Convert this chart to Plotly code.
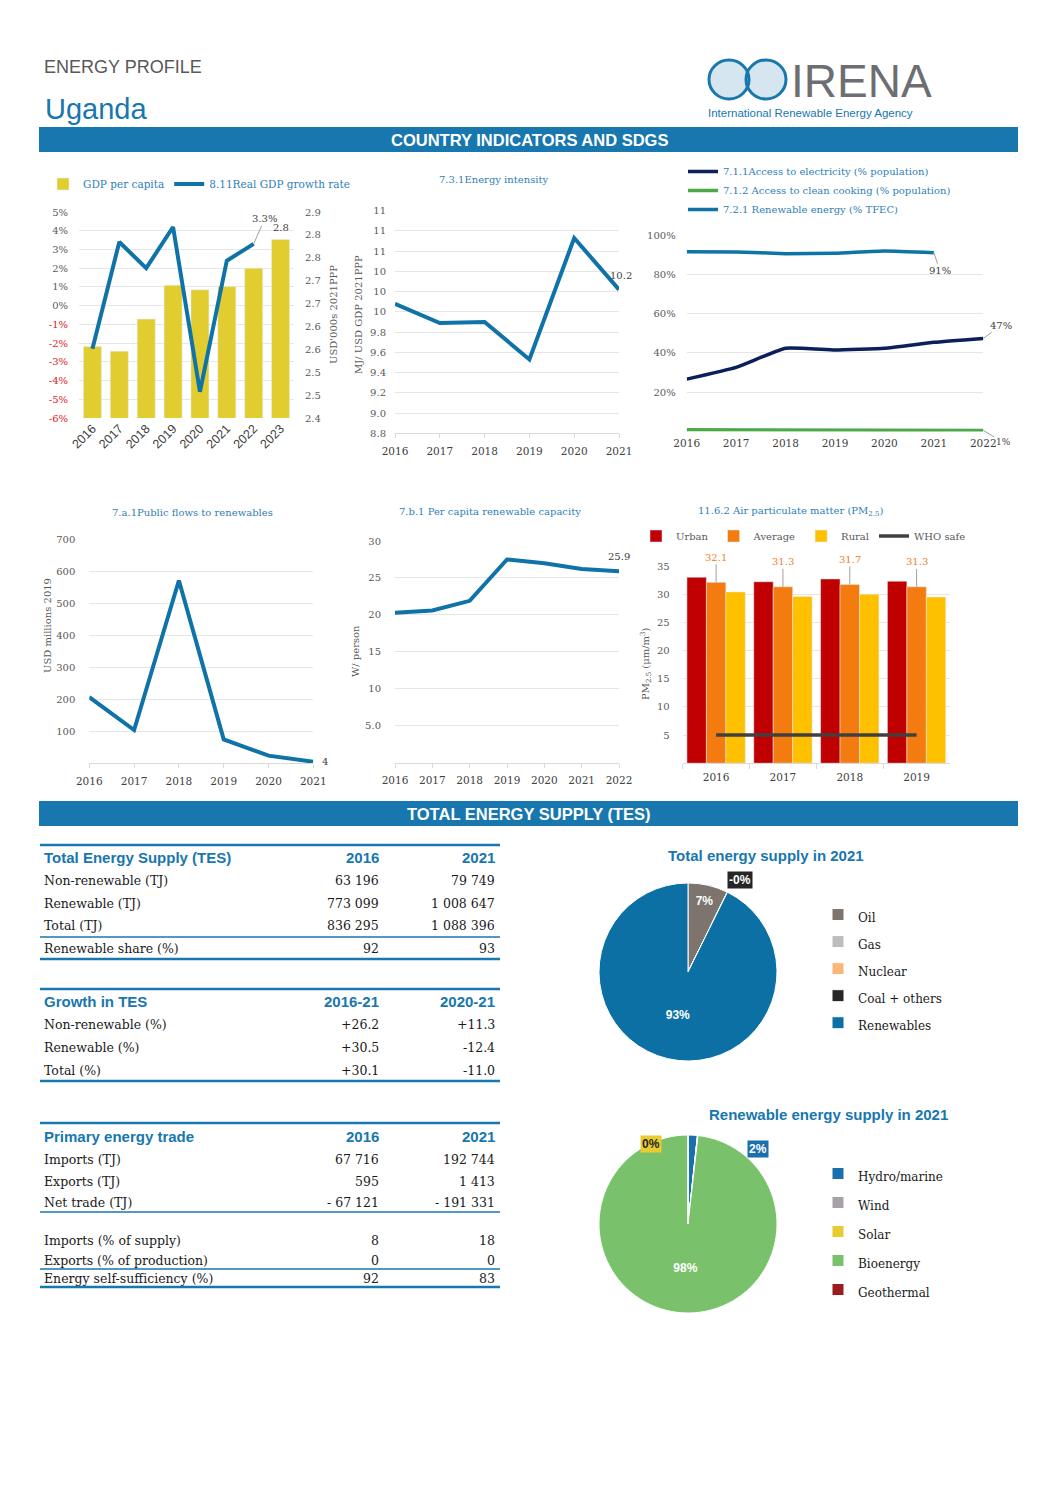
import plotly.graph_objects as go

W, H = 1058, 1497
OFF = 8  # page body margin in the browser


def fx(x):
    return (x - OFF) / W


def fy(y):
    return 1 - (y - OFF) / H


def xd(a, b):
    return [fx(a), fx(b)]


def yd(top, bottom):
    return [fy(bottom), fy(top)]


# ---------------------------------------------------------------- DATA
gdp_years = ["2016", "2017", "2018", "2019", "2020", "2021", "2022", "2023"]
gdp_per_capita = [2.556, 2.546, 2.616, 2.690, 2.680, 2.687, 2.727, 2.790]
growth_years = ["2016", "2017", "2018", "2019", "2020", "2021", "2022"]
gdp_growth = [-2.3, 3.4, 2.0, 4.2, -4.6, 2.4, 3.3]
growth_ticks = [-6, -5, -4, -3, -2, -1, 0, 1, 2, 3, 4, 5]
growth_ticktext = ["-6%", "-5%", "-4%", "-3%", "-2%", "-1%", "0%", "1%", "2%", "3%", "4%", "5%"]
gdp_ticks = [2.40, 2.45, 2.50, 2.55, 2.60, 2.65, 2.70, 2.75, 2.80, 2.85]
gdp_ticktext = ["2.4", "2.5", "2.5", "2.6", "2.6", "2.7", "2.7", "2.8", "2.8", "2.9"]

ei_years = [2016, 2017, 2018, 2019, 2020, 2021]
energy_intensity = [10.08, 9.89, 9.90, 9.53, 10.73, 10.22]
ei_ticks = [8.8, 9.0, 9.2, 9.4, 9.6, 9.8, 10.0, 10.2, 10.4, 10.6, 10.8, 11.0]
ei_ticktext = ["8.8", "9.0", "9.2", "9.4", "9.6", "9.8", "10", "10", "10", "11", "11", "11"]

access_years = [2016, 2017, 2018, 2019, 2020, 2021, 2022]
access_electricity = [26.7, 32.7, 42.4, 41.5, 42.4, 45.4, 47.4]
clean_cooking = [0.9, 0.9, 0.9, 0.8, 0.7, 0.7, 0.6]
re_years = [2016, 2017, 2018, 2019, 2020, 2021]
renewable_tfec = [91.5, 91.4, 90.5, 90.7, 91.9, 91.0]
pct_ticks = [20, 40, 60, 80, 100]
pct_ticktext = ["20%", "40%", "60%", "80%", "100%"]

flow_years = [2016, 2017, 2018, 2019, 2020, 2021]
public_flows = [206, 103, 571, 74, 23, 4]
flow_ticks = [100, 200, 300, 400, 500, 600, 700]

cap_years = [2016, 2017, 2018, 2019, 2020, 2021, 2022]
re_capacity = [20.3, 20.6, 21.9, 27.5, 27.0, 26.2, 25.9]
cap_ticks = [5, 10, 15, 20, 25, 30]
cap_ticktext = ["5.0", "10", "15", "20", "25", "30"]

pm_years = ["2016", "2017", "2018", "2019"]
pm_urban = [33.0, 32.2, 32.7, 32.3]
pm_average = [32.1, 31.3, 31.7, 31.3]
pm_rural = [30.4, 29.6, 30.0, 29.5]
pm_who = [5, 5, 5, 5]
pm_ticks = [5, 10, 15, 20, 25, 30, 35]

tes_labels = ["Oil", "Gas", "Nuclear", "Coal + others", "Renewables"]
tes_shares = [7.3, 0, 0, 0, 92.7]
re_labels = ["Hydro/marine", "Wind", "Solar", "Bioenergy", "Geothermal"]
re_shares = [1.7, 0, 0.1, 98.2, 0]

tes_header = ["Total Energy Supply (TES)", "2016", "2021"]
tes_rows = [
    ["Non-renewable (TJ)", "63 196", "79 749"],
    ["Renewable (TJ)", "773 099", "1 008 647"],
    ["Total (TJ)", "836 295", "1 088 396"],
    ["Renewable share (%)", "92", "93"],
]
growth_header = ["Growth in TES", "2016-21", "2020-21"]
growth_rows = [
    ["Non-renewable (%)", "+26.2", "+11.3"],
    ["Renewable (%)", "+30.5", "-12.4"],
    ["Total (%)", "+30.1", "-11.0"],
]
trade_header = ["Primary energy trade", "2016", "2021"]
trade_rows = [
    ["Imports (TJ)", "67 716", "192 744"],
    ["Exports (TJ)", "595", "1 413"],
    ["Net trade (TJ)", "- 67 121", "- 191 331"],
    ["Imports (% of supply)", "8", "18"],
    ["Exports (% of production)", "0", "0"],
    ["Energy self-sufficiency (%)", "92", "83"],
]

# ---------------------------------------------------------------- STYLE
SERIF = "DejaVu Serif"
SANS = "Liberation Sans"
NARROW = "Liberation Sans Narrow, Liberation Sans"
BLUE = "#1777AE"
LINE_BLUE = "#0F73A8"
TITLE_BLUE = "#2F80B7"
NAVY = "#0B1F5B"
GREEN = "#4CA94A"
YELLOW = "#E2CD31"
GRID = "#E6E6E6"
AXIS = "#D9D9D9"
TICK = "#595959"
DARK = "#404040"

tick_font = dict(family=SERIF, size=10, color=TICK)
year_font = dict(family=SERIF, size=10.5, color=DARK)

fig = go.Figure()

# ---------------- chart 1: GDP
fig.add_trace(go.Bar(x=gdp_years, y=gdp_per_capita, xaxis="x", yaxis="y", width=0.67,
                     marker_color=YELLOW, name="GDP per capita", legend="legend"))
fig.add_trace(go.Scatter(x=growth_years, y=gdp_growth, xaxis="x", yaxis="y2", mode="lines",
                         line=dict(color=LINE_BLUE, width=4), name="8.11Real GDP growth rate",
                         legend="legend", cliponaxis=False))

# ---------------- chart 2: energy intensity
fig.add_trace(go.Scatter(x=ei_years, y=energy_intensity, xaxis="x2", yaxis="y3", mode="lines",
                         line=dict(color=LINE_BLUE, width=4), showlegend=False, cliponaxis=False))

# ---------------- chart 3: access
fig.add_trace(go.Scatter(x=access_years, y=access_electricity, xaxis="x3", yaxis="y4", mode="lines",
                         line=dict(color=NAVY, width=3.5, shape="spline", smoothing=0.4),
                         name="7.1.1Access to electricity (% population)", legend="legend2",
                         cliponaxis=False))
fig.add_trace(go.Scatter(x=access_years, y=clean_cooking, xaxis="x3", yaxis="y4", mode="lines",
                         line=dict(color=GREEN, width=3.5),
                         name="7.1.2 Access to clean cooking (% population)", legend="legend2",
                         cliponaxis=False))
fig.add_trace(go.Scatter(x=re_years, y=renewable_tfec, xaxis="x3", yaxis="y4", mode="lines",
                         line=dict(color=LINE_BLUE, width=3.5, shape="spline", smoothing=0.4),
                         name="7.2.1 Renewable energy (% TFEC)", legend="legend2", cliponaxis=False))

# ---------------- chart 4: public flows
fig.add_trace(go.Scatter(x=flow_years, y=public_flows, xaxis="x4", yaxis="y5", mode="lines",
                         line=dict(color=LINE_BLUE, width=4), showlegend=False, cliponaxis=False))

# ---------------- chart 5: per capita capacity
fig.add_trace(go.Scatter(x=cap_years, y=re_capacity, xaxis="x5", yaxis="y6", mode="lines",
                         line=dict(color=LINE_BLUE, width=4), showlegend=False, cliponaxis=False))

# ---------------- chart 6: PM2.5
fig.add_trace(go.Bar(x=pm_years, y=pm_urban, xaxis="x6", yaxis="y7", marker_color="#C00000",
                     name="Urban", legend="legend3"))
fig.add_trace(go.Bar(x=pm_years, y=pm_average, xaxis="x6", yaxis="y7", marker_color="#F47B10",
                     name="Average", legend="legend3"))
fig.add_trace(go.Bar(x=pm_years, y=pm_rural, xaxis="x6", yaxis="y7", marker_color="#FFC000",
                     name="Rural", legend="legend3"))
fig.add_trace(go.Scatter(x=pm_years, y=pm_who, xaxis="x6", yaxis="y7", mode="lines",
                         line=dict(color="#404040", width=3.5), name="WHO safe", legend="legend3"))

# ---------------- pies
span = "<span style='font-size:12px'>{}</span>"
fig.add_trace(go.Pie(
    labels=[span.format(l) for l in tes_labels], values=tes_shares, sort=False,
    direction="clockwise", rotation=0,
    marker=dict(colors=["#7E746E", "#BDBDBD", "#F7B877", "#262626", "#0C70A5"],
                line=dict(color="white", width=1)),
    text=[f"<b>{round(v)}%</b>" if v >= 5 else "" for v in tes_shares], textinfo="text",
    textposition="inside", insidetextorientation="horizontal",
    textfont=dict(family=SANS, size=12, color="white"),
    domain=dict(x=xd(599, 777), y=yd(883, 1061)), legend="legend4", hoverinfo="label+percent"))
fig.add_trace(go.Pie(
    labels=[span.format(l) for l in re_labels], values=re_shares, sort=False,
    direction="clockwise", rotation=0,
    marker=dict(colors=["#1A6FAE", "#A6A1A6", "#E8CC2F", "#79C16B", "#9B1C1C"],
                line=dict(color="white", width=1)),
    text=[f"<b>{round(v)}%</b>" if v >= 5 else "" for v in re_shares], textinfo="text",
    textposition="inside", insidetextorientation="horizontal",
    textfont=dict(family=SANS, size=12, color="white"),
    domain=dict(x=xd(599, 777), y=yd(1135, 1313)), legend="legend5", hoverinfo="label+percent"))

# ---------------------------------------------------------------- AXES
def yaxis_common(**kw):
    d = dict(showgrid=True, gridcolor=GRID, gridwidth=1, zeroline=False, showline=False,
             tickfont=tick_font, ticks="", ticklabelstandoff=10, fixedrange=True, automargin=False)
    d.update(kw)
    return d


def xaxis_line(**kw):
    d = dict(showgrid=False, zeroline=False, showline=True, linecolor=AXIS, linewidth=1,
             ticks="outside", ticklen=4, tickcolor=AXIS, tickfont=year_font,
             ticklabelstandoff=4, fixedrange=True, automargin=False)
    d.update(kw)
    return d


red_ticks = [f"<span style='color:#E0201B'>{t}</span>" if v < 0 else t
             for v, t in zip(growth_ticks, growth_ticktext)]

layout_axes = dict(
    xaxis=dict(domain=xd(79, 294), anchor="y", type="category", range=[-0.5, len(gdp_years) - 0.5],
               showgrid=False, showline=False, zeroline=False, ticks="", tickangle=-45,
               tickfont=dict(family=SANS, size=12.5, color=DARK), fixedrange=True, automargin=False),
    yaxis=yaxis_common(domain=yd(212, 418), anchor="x", side="right", range=[2.4, 2.85],
                       tickvals=gdp_ticks, ticktext=gdp_ticktext, showgrid=False),
    yaxis2=yaxis_common(overlaying="y", anchor="x", side="left", range=[-6, 5],
                        tickvals=growth_ticks, ticktext=red_ticks),
    xaxis2=xaxis_line(domain=xd(395, 619), anchor="y3", range=[2016, 2021], tickvals=ei_years),
    yaxis3=yaxis_common(domain=yd(210.7, 433.3), anchor="x2", range=[8.8, 11.0],
                        tickvals=ei_ticks, ticktext=ei_ticktext, ticklabelstandoff=8),
    xaxis3=xaxis_line(domain=xd(686.7, 983.3), anchor="y4", range=[2016, 2022],
                      tickvals=access_years, showline=False, ticks=""),
    yaxis4=yaxis_common(domain=yd(235, 431.6), anchor="x3", range=[0, 100],
                        tickvals=pct_ticks, ticktext=pct_ticktext),
    xaxis4=xaxis_line(domain=xd(89.3, 313.3), anchor="y5", range=[2016, 2021], tickvals=flow_years),
    yaxis5=yaxis_common(domain=yd(539.3, 763), anchor="x4", range=[0, 700], tickvals=flow_ticks,
                        ticklabelstandoff=13),
    xaxis5=xaxis_line(domain=xd(395, 619), anchor="y6", range=[2016, 2022], tickvals=cap_years),
    yaxis6=yaxis_common(domain=yd(541, 762.6), anchor="x5", range=[0, 30], tickvals=cap_ticks,
                        ticktext=cap_ticktext, ticklabelstandoff=13),
    xaxis6=xaxis_line(domain=xd(682.7, 950), anchor="y7", type="category",
                      range=[-0.5, len(pm_years) - 0.5], tickson="boundaries", ticklen=5),
    yaxis7=yaxis_common(domain=yd(566, 763.2), anchor="x6", range=[0, 35], tickvals=pm_ticks,
                        ticklabelstandoff=12),
)

# ---------------------------------------------------------------- ANNOTATIONS / SHAPES
ann = []
shapes = []


def text(x, y, s, size=10.5, color=DARK, family=SERIF, xanchor="center", yanchor="middle", **kw):
    d = dict(x=fx(x), y=fy(y), xref="paper", yref="paper", text=s, showarrow=False,
             xanchor=xanchor, yanchor=yanchor, font=dict(family=family, size=size, color=color))
    d.update(kw)
    ann.append(d)


def hline(x0, x1, y, width=2, color=BLUE):
    shapes.append(dict(type="line", xref="paper", yref="paper", x0=fx(x0), x1=fx(x1),
                       y0=fy(y), y1=fy(y), line=dict(color=color, width=width)))


# header
text(42, 67, "ENERGY PROFILE", size=18, color="#595959", family=SANS, xanchor="left")
text(43, 109, "Uganda", size=29, color=BLUE, family=SANS, xanchor="left")
text(789, 81, "IRENA", size=46, color="#6D6E71", family=NARROW, xanchor="left")
text(706, 113, "International Renewable Energy Agency", size=11.5, color=BLUE, family=NARROW,
     xanchor="left")
for cx in (729, 766):
    shapes.append(dict(type="circle", xref="paper", yref="paper", x0=fx(cx - 20), x1=fx(cx + 20),
                       y0=fy(99), y1=fy(60), line=dict(color=BLUE, width=3),
                       fillcolor="rgba(23,119,174,0.18)"))

# section bars
for (y0, y1, s) in [(127, 152, "COUNTRY INDICATORS AND SDGS"), (801, 826, "TOTAL ENERGY SUPPLY (TES)")]:
    shapes.append(dict(type="rect", xref="paper", yref="paper", x0=fx(39), x1=fx(1018),
                       y0=fy(y1), y1=fy(y0), fillcolor=BLUE, line=dict(width=0), layer="below"))
    text(529, (y0 + y1) / 2 + 0.5, "<b>" + s + "</b>", size=16.5, color="white", family=NARROW)

# chart titles
text(493, 179, "7.3.1Energy intensity", size=10, color=TITLE_BLUE)
text(192, 512, "7.a.1Public flows to renewables", size=10, color=TITLE_BLUE)
text(490, 511, "7.b.1 Per capita renewable capacity", size=10, color=TITLE_BLUE)
text(790, 511, "11.6.2 Air particulate matter (PM<sub>2.5</sub>)", size=10, color=TITLE_BLUE)

# axis titles
text(333, 315, "USD'000s 2021PPP", size=10, color=TICK, textangle=-90)
text(358, 315, "MJ/ USD GDP 2021PPP", size=10, color=TICK, textangle=-90)
text(47, 626, "USD millions 2019", size=10, color=TICK, textangle=-90)
text(355, 651, "W/ person", size=10, color=TICK, textangle=-90)
text(646, 664, "PM<sub>2.5</sub> (μm/m<sup>3</sup>)", size=10, color=TICK, textangle=-90)

# data labels (category axes referenced by index)
lab_font = dict(family=SERIF, size=10, color=DARK)
ann.append(dict(x=len(growth_years) - 1, y=gdp_growth[-1], xref="x", yref="y2",
                text=f"{gdp_growth[-1]:.1f}%", showarrow=True, arrowhead=0, arrowwidth=1,
                arrowcolor="#A0A0A0", ax=11, ay=-25, font=lab_font))
ann.append(dict(x=len(gdp_years) - 1, y=gdp_per_capita[-1], xref="x", yref="y",
                text=f"{gdp_per_capita[-1]:.1f}", showarrow=False, yshift=12, font=lab_font))
ann.append(dict(x=ei_years[-1], y=energy_intensity[-1], xref="x2", yref="y3",
                text=f"{energy_intensity[-1]:.1f}", showarrow=False, yshift=14, xshift=2, font=lab_font))
ann.append(dict(x=re_years[-1], y=renewable_tfec[-1], xref="x3", yref="y4", text=f"{renewable_tfec[-1]:.0f}%",
                showarrow=True, arrowhead=0, arrowwidth=1, arrowcolor="#A0A0A0", ax=6, ay=18,
                font=lab_font))
ann.append(dict(x=access_years[-1], y=access_electricity[-1], xref="x3", yref="y4",
                text=f"{access_electricity[-1]:.0f}%", showarrow=True, arrowhead=0, arrowwidth=1,
                arrowcolor="#A0A0A0", ax=18, ay=-13, font=lab_font))
ann.append(dict(x=access_years[-1], y=clean_cooking[-1], xref="x3", yref="y4",
                text=f"{clean_cooking[-1]:.0f}%", showarrow=True, arrowhead=0, arrowwidth=1,
                arrowcolor="#A0A0A0", ax=20, ay=12, font=dict(family=SERIF, size=9, color=DARK)))
ann.append(dict(x=flow_years[-1], y=public_flows[-1], xref="x4", yref="y5", text=f"{public_flows[-1]}",
                showarrow=False, xshift=12, font=lab_font))
ann.append(dict(x=cap_years[-1], y=re_capacity[-1], xref="x5", yref="y6", text=f"{re_capacity[-1]:.1f}",
                showarrow=False, yshift=15, font=lab_font))
for i, v in enumerate(pm_average):
    ann.append(dict(x=i, y=v, xref="x6", yref="y7", text=f"{v:.1f}", showarrow=True, arrowhead=0,
                    arrowwidth=1, arrowcolor="#A0A0A0", ax=0, ay=-25,
                    font=dict(family=SERIF, size=10, color="#F07E26")))

# pie titles and small labels
text(766, 855, "<b>Total energy supply in 2021</b>", size=15, color=BLUE, family=SANS)
text(828, 1114, "<b>Renewable energy supply in 2021</b>", size=15, color=BLUE, family=SANS)
text(740, 880, "<b>-0%</b>", size=12, color="white", family=SANS, bgcolor="#262626", borderpad=1)
text(651, 1144, "<b>0%</b>", size=12, color="#262626", family=SANS, bgcolor="#E8CC2F", borderpad=1)
text(758, 1149, f"<b>{round(re_shares[0])}%</b>", size=12, color="white", family=SANS,
     bgcolor="#1A6FAE", borderpad=1)

# tables
COLX = (42, 381, 497)


def table(header, rows, y_header, row_ys):
    text(COLX[0], y_header, "<b>" + header[0] + "</b>", size=15, color=BLUE, family=SANS, xanchor="left")
    text(COLX[1], y_header, "<b>" + header[1] + "</b>", size=15, color=BLUE, family=SANS, xanchor="right")
    text(COLX[2], y_header, "<b>" + header[2] + "</b>", size=15, color=BLUE, family=SANS, xanchor="right")
    for r, y in zip(rows, row_ys):
        text(COLX[0], y, r[0], size=12.5, color="#1A1A1A", xanchor="left")
        text(COLX[1], y, r[1], size=12.5, color="#1A1A1A", xanchor="right")
        text(COLX[2], y, r[2], size=12.5, color="#1A1A1A", xanchor="right")


table(tes_header, tes_rows, 857, [880, 903, 926, 948])
hline(40, 500, 845, 2.5)
hline(40, 500, 937, 1.5)
hline(40, 500, 959, 2.5)
table(growth_header, growth_rows, 1001, [1024, 1047, 1070])
hline(40, 500, 989, 2.5)
hline(40, 500, 1081, 2.5)
table(trade_header, trade_rows, 1136, [1159, 1181, 1202, 1240, 1260, 1278])
hline(40, 500, 1123, 2.5)
hline(40, 500, 1212, 1.5)
hline(40, 500, 1269, 1.5)
hline(40, 500, 1287, 2.5)

# ---------------------------------------------------------------- LAYOUT
leg_common = dict(bgcolor="rgba(0,0,0,0)", borderwidth=0, xanchor="left", itemclick=False,
                  itemdoubleclick=False)
fig.update_layout(
    width=W, height=H, margin=dict(l=0, r=0, t=0, b=0, autoexpand=False),
    paper_bgcolor="white", plot_bgcolor="white",
    barmode="group", bargap=0.127, bargroupgap=0,
    font=dict(family=SERIF, size=10, color=DARK),
    annotations=ann, shapes=shapes,
    legend=dict(orientation="h", x=fx(43), y=fy(184), yanchor="middle",
                font=dict(family=SERIF, size=10.5, color=TITLE_BLUE), **leg_common),
    legend2=dict(orientation="v", x=fx(683), y=fy(157), yanchor="top", tracegroupgap=0,
                 font=dict(family=SERIF, size=10, color=TITLE_BLUE), **leg_common),
    legend3=dict(orientation="h", x=fx(636), y=fy(536), yanchor="middle",
                 font=dict(family=SERIF, size=10, color=TICK), **leg_common),
    legend4=dict(orientation="v", x=fx(818), y=fy(896), yanchor="top",
                 font=dict(family=SERIF, size=18.5, color="#1A1A1A"), **leg_common),
    legend5=dict(orientation="v", x=fx(818), y=fy(1154), yanchor="top",
                 font=dict(family=SERIF, size=20, color="#1A1A1A"), **leg_common),
    **layout_axes,
)

fig.write_html("out.html")
